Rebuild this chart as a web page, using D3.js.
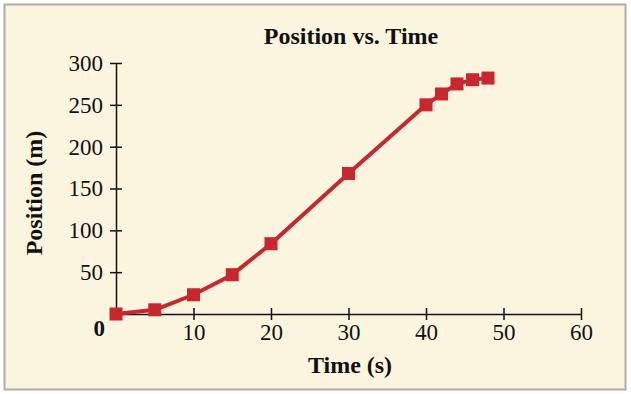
<!DOCTYPE html>
<html lang="en">
<head>
    <meta charset="UTF-8">
    <title>Position vs. Time</title>
    <script src="https://d3js.org/d3.v7.min.js"></script>
    <style>
        body { margin: 0; background: #fff; }
        svg text { font-family: "Liberation Serif", "DejaVu Serif", serif; }
    </style>
</head>
<body>
    <script>
        // Data
        const times = [0, 5, 10, 15, 20, 30, 40, 42, 44, 46, 48];
        const positions = [0, 5, 23, 47, 84, 168, 250, 263, 275, 280, 282];
        const xTicks = [10, 20, 30, 40, 50, 60];
        const yTicks = [50, 100, 150, 200, 250, 300];

        const W = 631, H = 394;
        const margin = { top: 63, right: 50, bottom: 80, left: 116 },
              width = 581 - margin.left,
              height = 314 - margin.top;

        const root = d3.select("body").append("svg")
            .attr("width", W)
            .attr("height", H);

        // Cream panel with grey frame
        root.append("rect")
            .attr("x", 4.5).attr("y", 4.5)
            .attr("width", 621).attr("height", 385)
            .attr("fill", "#fbf5e0")
            .attr("stroke", "#b3aca6")
            .attr("stroke-width", 2);

        const svg = root.append("g")
            .attr("transform", `translate(${margin.left},${margin.top})`);

        const x = d3.scaleLinear().domain([0, 60]).range([0, width]);
        const y = d3.scaleLinear().domain([0, 300]).range([height, 0]);

        // Axes
        const xAxis = svg.append("g")
            .attr("transform", `translate(0,${height})`)
            .call(d3.axisBottom(x).tickValues(xTicks).tickSize(0).tickPadding(10))
            .attr("font-family", "Liberation Serif")
            .attr("font-size", 23);
        xAxis.select(".domain").attr("stroke", "#111").attr("stroke-width", 1.5);
        xAxis.selectAll(".tick").append("line")
            .attr("y1", -6).attr("y2", 6)
            .attr("stroke", "#111").attr("stroke-width", 1.5);

        const yAxis = svg.append("g")
            .call(d3.axisLeft(y).tickValues(yTicks).tickSize(0).tickPadding(13))
            .attr("font-family", "Liberation Serif")
            .attr("font-size", 23);
        yAxis.select(".domain").attr("stroke", "#111").attr("stroke-width", 1.5);
        yAxis.selectAll(".tick").append("line")
            .attr("x1", -6).attr("x2", 6)
            .attr("stroke", "#111").attr("stroke-width", 1.5);

        svg.selectAll(".tick text").attr("fill", "#111");

        // Bold zero at origin
        svg.append("text")
            .attr("x", x(0) - 11)
            .attr("y", y(0) + 22)
            .attr("text-anchor", "end")
            .style("font-size", "23px")
            .style("font-weight", "bold")
            .attr("fill", "#111")
            .text("0");

        // Title
        svg.append("text")
            .attr("x", 351 - margin.left)
            .attr("y", -19)
            .attr("text-anchor", "middle")
            .style("font-size", "24px")
            .style("font-weight", "bold")
            .attr("fill", "#111")
            .text("Position vs. Time");

        // Axis labels
        svg.append("text")
            .attr("x", 350 - margin.left)
            .attr("y", height + 59)
            .attr("text-anchor", "middle")
            .style("font-size", "24px")
            .style("font-weight", "bold")
            .attr("fill", "#111")
            .text("Time (s)");

        svg.append("text")
            .attr("transform", "rotate(-90)")
            .attr("x", -(193 - margin.top))
            .attr("y", 42 - margin.left)
            .attr("text-anchor", "middle")
            .style("font-size", "24px")
            .style("font-weight", "bold")
            .attr("fill", "#111")
            .text("Position (m)");

        // Line and markers
        const pts = times.map((t, i) => ({ t: t, p: positions[i] }));
        const line = d3.line().x(d => x(d.t)).y(d => y(d.p));

        svg.append("path")
            .datum(pts)
            .attr("fill", "none")
            .attr("stroke", "#c8272d")
            .attr("stroke-width", 4)
            .attr("stroke-linejoin", "round")
            .attr("d", line);

        const ms = 13;
        svg.selectAll(".pt")
            .data(pts)
            .enter().append("rect")
            .attr("class", "pt")
            .attr("x", d => x(d.t) - ms / 2)
            .attr("y", d => y(d.p) - ms / 2)
            .attr("width", ms)
            .attr("height", ms)
            .attr("fill", "#c8272d");
    </script>
</body>
</html>
